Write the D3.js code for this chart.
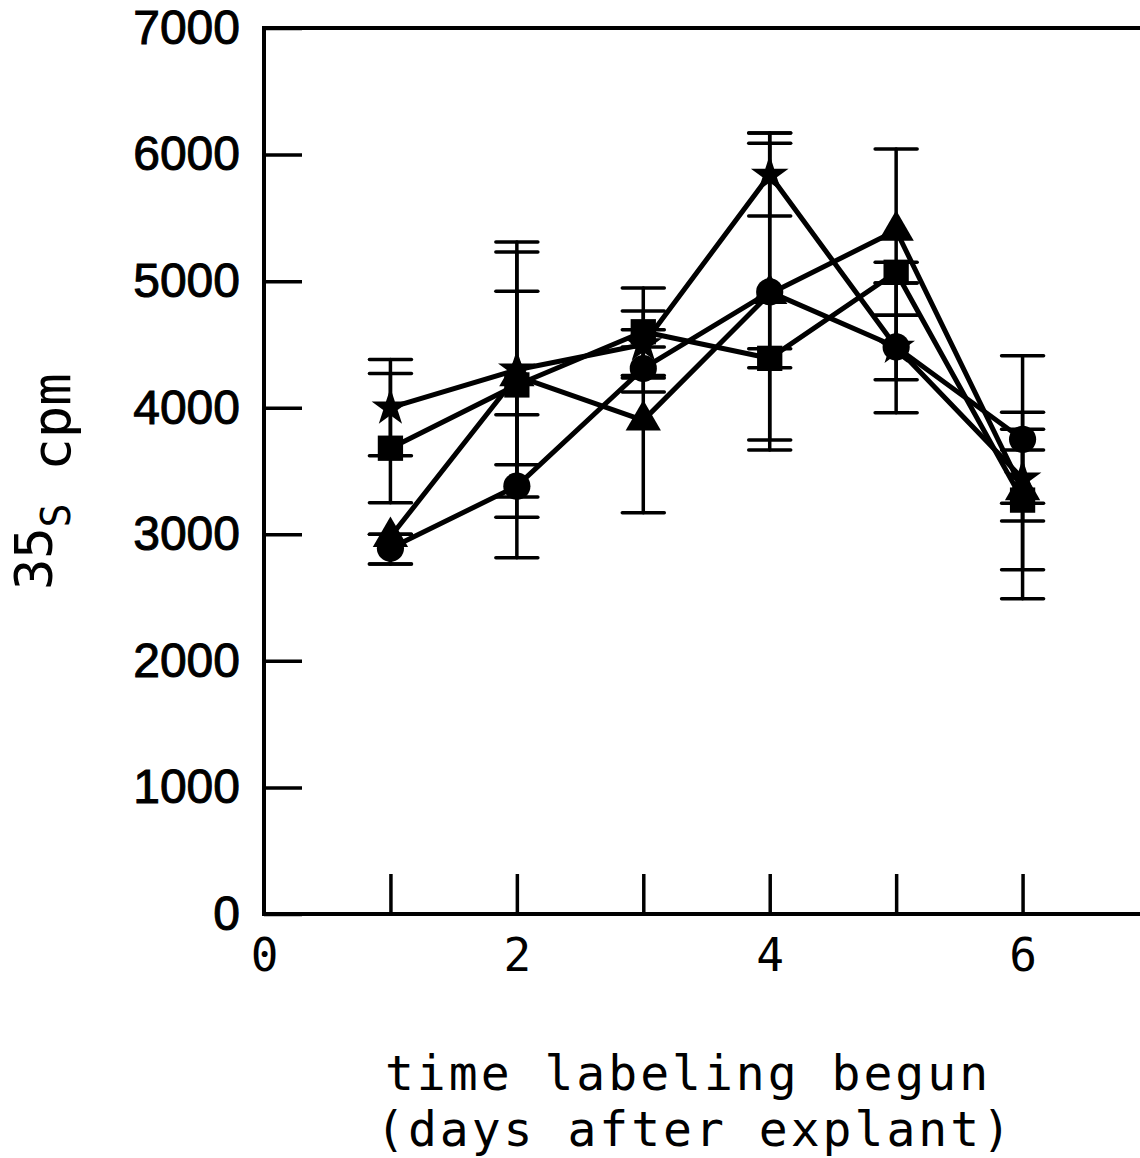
<!DOCTYPE html>
<html>
<head>
<meta charset="utf-8">
<script src="https://cdn.jsdelivr.net/npm/d3@7"></script>
<style>
  html, body { margin: 0; padding: 0; background: #fff; }
  svg { display: block; }
</style>
</head>
<body>
<svg id="chart" width="1140" height="1158"></svg>
<script>
// Days on which labelling began
const days = [1, 2, 3, 4, 5, 6];

// Mean 35S counts (cpm) per series
const starVals     = [4000, 4300, 4500, 5840, 4480, 3440];
const squareVals   = [3680, 4180, 4600, 4390, 5070, 3270];
const triangleVals = [2980, 4250, 3900, 4900, 5400, 3350];
const circleVals   = [2890, 3380, 4310, 4915, 4480, 3750];

// Error bar limits [low, high] per series
const starErr     = [[3620, 4380], [3550, 4920], [4235, 4765], [5515, 6170], [4220, 4730], [3245, 3665]];
const squareErr   = [[3250, 4270], [3135, 5230], [4255, 4945], [4315, 4465], [4985, 5150], [2490, 3965]];
const triangleErr = [[2765, 3000], [3295, 5310], [3170, 4615], [3665, 6170], [4730, 6045], [2720, 3830]];
const circleErr   = [[2765, 3000], [2815, 3945], [4125, 4480], [3745, 6090], [3960, 4985], [3105, 4410]];

// Axis ticks and labels
const yTickVals   = [0, 1000, 2000, 3000, 4000, 5000, 6000, 7000];
const xTickMarks  = [1, 2, 3, 4, 5, 6];
const xTickLabels = [0, 2, 4, 6];

const svg = d3.select("#chart");
const x = d3.scaleLinear().domain([0, 7]).range([264, 1149]);
const y = d3.scaleLinear().domain([0, 7000]).range([914, 28]);

const tickFont = "'Liberation Sans', Arial, sans-serif";
const monoFont = "'DejaVu Sans Mono', 'Liberation Mono', monospace";

// frame
svg.append("rect")
  .attr("x", x(0)).attr("y", y(7000))
  .attr("width", x(7) - x(0)).attr("height", y(0) - y(7000))
  .attr("fill", "none").attr("stroke", "#000").attr("stroke-width", 4);

// y axis: inward ticks with labels on the left
const yAxis = svg.append("g")
  .attr("transform", `translate(${x(0)},0)`)
  .call(d3.axisLeft(y).tickValues(yTickVals).tickSizeInner(-38).tickSizeOuter(0)
        .tickPadding(24).tickFormat(d3.format("d")));
yAxis.select(".domain").remove();
yAxis.selectAll(".tick line").attr("stroke", "#000").attr("stroke-width", 3.5);
yAxis.selectAll(".tick text")
  .attr("font-family", tickFont).attr("font-size", 48).attr("fill", "#000")
  .attr("stroke", "#000").attr("stroke-width", 1);

// x axis: inward tick marks at every day
const xAxis = svg.append("g")
  .attr("transform", `translate(0,${y(0)})`)
  .call(d3.axisBottom(x).tickValues(xTickMarks).tickSizeInner(-40).tickSizeOuter(0)
        .tickFormat(""));
xAxis.select(".domain").remove();
xAxis.selectAll(".tick line").attr("stroke", "#000").attr("stroke-width", 3.5);

// x tick labels
const xLab = svg.append("g")
  .attr("transform", `translate(0,${y(0)})`)
  .call(d3.axisBottom(x).tickValues(xTickLabels).tickSize(0).tickPadding(24)
        .tickFormat(d3.format("d")));
xLab.select(".domain").remove();
xLab.selectAll(".tick text")
  .attr("font-family", monoFont).attr("font-size", 46).attr("fill", "#000");

// series
const series = [
  { vals: starVals,     err: starErr,     sym: d3.symbolStar,     size: 440 },
  { vals: squareVals,   err: squareErr,   sym: d3.symbolSquare,   size: 640 },
  { vals: triangleVals, err: triangleErr, sym: d3.symbolTriangle, size: 540 },
  { vals: circleVals,   err: circleErr,   sym: d3.symbolCircle,   size: 580 }
];

const line = d3.line().x(d => x(d[0])).y(d => y(d[1]));
const cap = 21;

series.forEach(s => {
  const pts = days.map((d, i) => [d, s.vals[i]]);
  svg.append("path").datum(pts).attr("d", line)
    .attr("fill", "none").attr("stroke", "#000").attr("stroke-width", 5)
    .attr("stroke-linejoin", "round");
});

series.forEach(s => {
  const g = svg.append("g").attr("stroke", "#000").attr("stroke-width", 3.5)
    .attr("stroke-linecap", "round");
  days.forEach((d, i) => {
    const [lo, hi] = s.err[i];
    const cx = x(d);
    g.append("line").attr("x1", cx).attr("x2", cx).attr("y1", y(lo)).attr("y2", y(hi));
    g.append("line").attr("x1", cx - cap).attr("x2", cx + cap).attr("y1", y(lo)).attr("y2", y(lo));
    g.append("line").attr("x1", cx - cap).attr("x2", cx + cap).attr("y1", y(hi)).attr("y2", y(hi));
  });
});

series.forEach(s => {
  svg.append("g").selectAll("path").data(days).join("path")
    .attr("transform", (d, i) => `translate(${x(d)},${y(s.vals[i])})`)
    .attr("d", d3.symbol().type(s.sym).size(s.size))
    .attr("fill", "#000");
});

// y axis title
const yt = svg.append("text")
  .attr("transform", "translate(70,590) rotate(-90)")
  .attr("font-family", monoFont).attr("fill", "#000");
yt.append("tspan").attr("font-size", 52).attr("dy", -18).text("35");
yt.append("tspan").attr("font-size", 40).attr("dy", 18).text("S");
yt.append("tspan").attr("font-size", 54).text(" cpm");

// x axis title
const xt = svg.append("text")
  .attr("font-family", monoFont).attr("font-size", 48).attr("fill", "#000")
  .attr("letter-spacing", 3).attr("text-anchor", "middle");
xt.append("tspan").attr("x", 688).attr("y", 1090).text("time labeling begun");
xt.append("tspan").attr("x", 695).attr("y", 1146).text("(days after explant)");
</script>
</body>
</html>
